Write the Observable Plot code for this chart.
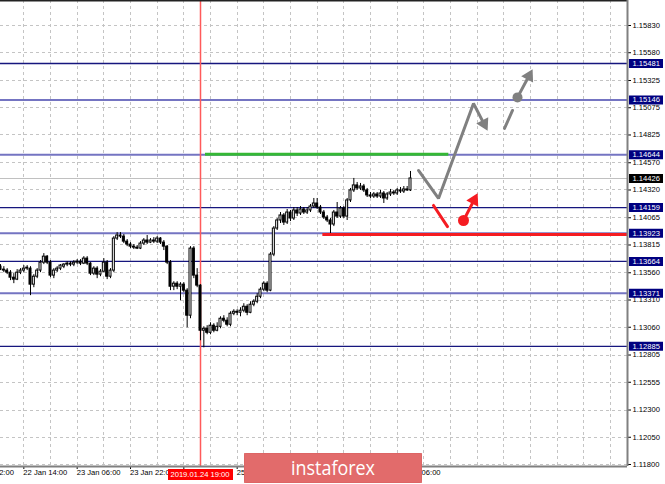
<!DOCTYPE html>
<html><head><meta charset="utf-8">
<script src="https://cdn.jsdelivr.net/npm/d3@7"></script>
<script src="https://cdn.jsdelivr.net/npm/@observablehq/plot@0.6"></script>
<style>
html,body{margin:0;padding:0;background:#fff;}
#wrap{position:relative;width:665px;height:484px;overflow:hidden;background:#fff;}
#wrap > svg{position:absolute;left:0;top:0;}
#datebox{position:absolute;top:469px;height:11px;width:65px;background:#ff0000;color:#fff;font-family:"Liberation Sans",Arial,sans-serif;font-size:7.6px;line-height:11px;text-align:center;white-space:nowrap;}
#logo{position:absolute;left:244px;top:453px;width:178px;height:30px;}
</style>
</head><body>
<div id="wrap"></div>
<script>
// ---- candles (EURUSD H1), bar index 0 = 22 Jan 07:00 ----
const open = [
1.13616,1.13589,1.13580,1.13561,1.13515,1.13497,1.13561,1.13580,1.13598,1.13598,
1.13451,1.13524,1.13580,1.13653,1.13708,1.13653,1.13534,1.13580,1.13598,1.13616,
1.13635,1.13644,1.13635,1.13653,1.13662,1.13644,1.13690,1.13644,1.13552,1.13598,
1.13543,1.13570,1.13653,1.13524,1.13580,1.13874,1.13902,1.13892,1.13846,1.13819,
1.13800,1.13791,1.13782,1.13828,1.13856,1.13837,1.13856,1.13846,1.13874,1.13837,
1.13800,1.13653,1.13432,1.13460,1.13432,1.13451,1.13396,1.13166,1.13782,1.13534,
1.13442,1.13028,1.13046,1.13009,1.13074,1.13028,1.13064,1.13138,1.13120,1.13083,
1.13184,1.13202,1.13193,1.13212,1.13248,1.13193,1.13267,1.13294,1.13340,1.13405,
1.13460,1.13396,1.13727,1.13966,1.14040,1.14086,1.14021,1.14113,1.14058,1.14132,
1.14104,1.14141,1.14113,1.14132,1.14168,1.14196,1.14159,1.14113,1.14067,1.14040,
1.14003,1.14113,1.14076,1.14150,1.14076,1.14224,1.14316,1.14362,1.14334,1.14352,
1.14316,1.14270,1.14260,1.14279,1.14260,1.14288,1.14242,1.14279,1.14297,1.14288,
1.14316,1.14306,1.14325,1.14316];
const high = [
1.13635,1.13616,1.13598,1.13580,1.13552,1.13589,1.13598,1.13626,1.13626,1.13616,
1.13543,1.13598,1.13672,1.13736,1.13718,1.13672,1.13598,1.13616,1.13635,1.13644,
1.13662,1.13662,1.13672,1.13681,1.13681,1.13708,1.13708,1.13653,1.13616,1.13616,
1.13589,1.13690,1.13672,1.13598,1.13892,1.13929,1.13929,1.13911,1.13865,1.13837,
1.13819,1.13810,1.13846,1.13874,1.13902,1.13874,1.13883,1.13892,1.13883,1.13856,
1.13810,1.13672,1.13478,1.13478,1.13469,1.13469,1.13414,1.13800,1.13800,1.13598,
1.13451,1.13064,1.13074,1.13101,1.13092,1.13101,1.13156,1.13166,1.13147,1.13202,
1.13221,1.13221,1.13239,1.13276,1.13267,1.13294,1.13313,1.13368,1.13423,1.13478,
1.13478,1.13745,1.13984,1.14058,1.14113,1.14104,1.14141,1.14132,1.14159,1.14159,
1.14168,1.14159,1.14159,1.14187,1.14242,1.14242,1.14178,1.14132,1.14086,1.14058,
1.14132,1.14205,1.14168,1.14168,1.14242,1.14334,1.14426,1.14389,1.14380,1.14371,
1.14334,1.14297,1.14297,1.14297,1.14316,1.14306,1.14297,1.14325,1.14316,1.14334,
1.14343,1.14352,1.14352,1.14490];
const low = [
1.13580,1.13561,1.13543,1.13488,1.13460,1.13488,1.13543,1.13561,1.13580,1.13350,
1.13423,1.13506,1.13561,1.13635,1.13635,1.13515,1.13506,1.13561,1.13580,1.13598,
1.13616,1.13616,1.13616,1.13635,1.13626,1.13635,1.13626,1.13534,1.13534,1.13506,
1.13524,1.13561,1.13497,1.13506,1.13561,1.13856,1.13874,1.13828,1.13800,1.13782,
1.13773,1.13773,1.13773,1.13810,1.13819,1.13828,1.13828,1.13828,1.13819,1.13764,
1.13635,1.13396,1.13396,1.13405,1.13304,1.13377,1.13055,1.13138,1.13506,1.13423,
1.12936,1.12871,1.12991,1.12991,1.13009,1.13018,1.13046,1.13101,1.13064,1.13064,
1.13166,1.13166,1.13156,1.13193,1.13166,1.13184,1.13248,1.13276,1.13322,1.13386,
1.13377,1.13386,1.13708,1.13948,1.14012,1.13994,1.14003,1.14030,1.14040,1.14076,
1.14086,1.14095,1.14095,1.14113,1.14150,1.14141,1.14095,1.14049,1.14021,1.13902,
1.13984,1.14058,1.14058,1.14058,1.14040,1.14205,1.14297,1.14316,1.14316,1.14297,
1.14251,1.14242,1.14242,1.14242,1.14242,1.14196,1.14224,1.14260,1.14270,1.14270,
1.14288,1.14288,1.14306,1.14306];
const close = [
1.13589,1.13580,1.13561,1.13515,1.13497,1.13561,1.13580,1.13598,1.13607,1.13451,
1.13524,1.13580,1.13653,1.13708,1.13653,1.13534,1.13580,1.13598,1.13626,1.13635,
1.13644,1.13635,1.13653,1.13662,1.13644,1.13690,1.13644,1.13552,1.13598,1.13543,
1.13570,1.13653,1.13524,1.13580,1.13874,1.13902,1.13892,1.13846,1.13819,1.13800,
1.13791,1.13782,1.13828,1.13856,1.13837,1.13856,1.13846,1.13874,1.13837,1.13800,
1.13653,1.13432,1.13460,1.13432,1.13451,1.13396,1.13166,1.13782,1.13534,1.13442,
1.13028,1.13046,1.13009,1.13074,1.13028,1.13064,1.13138,1.13120,1.13083,1.13184,
1.13202,1.13193,1.13212,1.13248,1.13193,1.13267,1.13294,1.13340,1.13405,1.13460,
1.13396,1.13727,1.13966,1.14040,1.14086,1.14021,1.14113,1.14058,1.14132,1.14104,
1.14141,1.14113,1.14132,1.14168,1.14196,1.14159,1.14113,1.14067,1.14040,1.14003,
1.14113,1.14076,1.14150,1.14076,1.14224,1.14316,1.14362,1.14334,1.14352,1.14316,
1.14270,1.14260,1.14279,1.14260,1.14288,1.14242,1.14279,1.14297,1.14288,1.14316,
1.14306,1.14325,1.14316,1.14426];

// ---- price axis ----
const yTicks = [1.15830,1.15580,1.15325,1.15075,1.14825,1.14570,1.14320,1.14065,1.13815,
  1.13560,1.13310,1.13060,1.12805,1.12555,1.12300,1.12050,1.11800];
// ---- time axis (labels hidden under the cursor box / logo are not shown in the reference) ----
const xTickIdx = [7,23,39,55,71,87,103,119];
const xLabelIdx = [-9,7,23,39,71,119];
const xLabels = ["21 Jan 22:00","22 Jan 14:00","23 Jan 06:00","23 Jan 22:00","25 Jan 06:00","29 Jan 06:00"];
const gridIdx = [7,15,23,31,39,47,55,63,71,79,87,95,103,111,119,127,135,143,151,159,167,175,183];

// ---- levels ----
const levels = [1.15481,1.15146,1.14644,1.14159,1.13923,1.13664,1.13371,1.12885];
const levelKind = ["dark","light","light","dark","light","dark","light","dark"];
const lastPrice = 1.14426;
const cursorBar = 60;
const cursorLabel = "2019.01.24 19:00";

// ---- drawn annotations (bar index, price) ----
const greenSeg = {x1: 61.5, x2: 134.5, y: 1.14648};
const redSeg = {x1: 96.7, x2: 188.1, y: 1.13911};
const grayPathX = [125.4, 131.4, 141.9, 146.1];
const grayPathY = [1.14499, 1.14242, 1.15114, 1.14866];
const grayDashX = [151.2, 153.6];
const grayDashY = [1.14885, 1.15050];
const grayDot = {x: 155.1, y: 1.15170};
const grayArrowTip = {x: 159.6, y: 1.15427};
const redStrokeX = [129.9, 134.1];
const redStrokeY = [1.14178, 1.13984];
const redDot = {x: 138.9, y: 1.14040};
const redArrowTip = {x: 143.1, y: 1.14288};

const xDomain = [0, 188.1];
const yDomain = [1.117816, 1.160595];
const W = 665, H = 484, mR = 38, mB = 18;

const bars = open.map((o, i) => ({i, o, h: high[i], l: low[i], c: close[i], up: close[i] >= o}));

const xs = d3.scaleLinear(xDomain, [0, W - mR]);
const ys = d3.scaleLinear(yDomain, [H - mB, 0]);
function head(fx, fy, tx, ty, back) {
  const x0 = xs(fx), y0 = ys(fy), x1 = xs(tx), y1 = ys(ty);
  const dx = x1 - x0, dy = y1 - y0, L = Math.hypot(dx, dy);
  return {x: xs.invert(x1 - dx / L * back), y: ys.invert(y1 - dy / L * back),
          rot: Math.atan2(dx, -dy) * 180 / Math.PI};
}
const GRAY = "#808080", RED = "#f51c22";
const h1 = head(grayPathX[2], grayPathY[2], grayPathX[3], grayPathY[3], 7.5);
const h2 = head(grayDot.x, grayDot.y, grayArrowTip.x, grayArrowTip.y, 7.5);
const h3 = head(redDot.x, redDot.y, redArrowTip.x, redArrowTip.y, 7.5);
const grayPath = grayPathX.map((x, k) => ({x, y: grayPathY[k]}));
grayPath[3] = {x: h1.x, y: h1.y};

const chart = Plot.plot({
  width: W, height: H,
  marginLeft: 0, marginRight: mR, marginTop: 0, marginBottom: mB,
  style: {fontFamily: '"Liberation Sans", Arial, sans-serif', fontSize: "7.6px", color: "#000", background: "#fff"},
  x: {domain: xDomain, ticks: xTickIdx, tickFormat: () => "", tickSize: 3, label: null},
  y: {domain: yDomain, axis: "right", ticks: yTicks, tickFormat: d3.format(".5f"), tickSize: 3, tickPadding: 2, label: null},
  marks: [
    Plot.ruleY(yTicks, {stroke: "#c4c4c4", strokeDasharray: "3,3", shapeRendering: "crispEdges"}),
    Plot.ruleX(gridIdx, {stroke: "#c4c4c4", strokeDasharray: "3,3", shapeRendering: "crispEdges"}),
    Plot.ruleY([lastPrice], {stroke: "#c0c0c0", shapeRendering: "crispEdges"}),
    Plot.ruleY(levels, {
      stroke: (d, k) => levelKind[k] === "dark" ? "#16167e" : "#7474c2",
      strokeWidth: (d, k) => levelKind[k] === "dark" ? 1.3 : 2
    }),
    Plot.ruleX([cursorBar], {stroke: "#ff5a5a", strokeWidth: 1.5}),
    Plot.ruleX(bars, {x: "i", y1: "l", y2: "h", stroke: "#000", strokeWidth: 1}),
    Plot.rect(bars, {x1: d => d.i - 0.3, x2: d => d.i + 0.3, y1: "o", y2: "c",
      fill: d => d.up ? "#fff" : "#000", stroke: "#000", strokeWidth: 1}),
    Plot.ruleY([greenSeg], {x1: "x1", x2: "x2", y: "y", stroke: "#35b835", strokeWidth: 3}),
    Plot.ruleY([redSeg], {x1: "x1", x2: "x2", y: "y", stroke: RED, strokeWidth: 3}),
    Plot.line(grayPath, {x: "x", y: "y", stroke: GRAY, strokeWidth: 3, strokeLinejoin: "miter"}),
    Plot.line(grayDashX.map((x, k) => ({x, y: grayDashY[k]})), {x: "x", y: "y", stroke: GRAY, strokeWidth: 3}),
    Plot.line([grayDot, {x: h2.x, y: h2.y}], {x: "x", y: "y", stroke: GRAY, strokeWidth: 3}),
    Plot.dot([grayDot], {x: "x", y: "y", r: 5, fill: GRAY, stroke: "none"}),
    Plot.line(redStrokeX.map((x, k) => ({x, y: redStrokeY[k]})), {x: "x", y: "y", stroke: RED, strokeWidth: 3}),
    Plot.line([redDot, {x: h3.x, y: h3.y}], {x: "x", y: "y", stroke: RED, strokeWidth: 3}),
    Plot.dot([redDot], {x: "x", y: "y", r: 5.5, fill: RED, stroke: "none"}),
    Plot.dot([h1, h2], {x: "x", y: "y", rotate: "rot", symbol: "triangle", r: 5, fill: GRAY, stroke: "none"}),
    Plot.dot([h3], {x: "x", y: "y", rotate: "rot", symbol: "triangle", r: 5, fill: RED, stroke: "none"}),
    Plot.ruleY([yDomain[1]], {stroke: "#222", strokeWidth: 2}),
    Plot.ruleY([yDomain[0]], {stroke: "#808080", strokeWidth: 2}),
    Plot.ruleX([xDomain[1]], {stroke: "#808080", strokeWidth: 2}),
    Plot.text(xLabelIdx, {x: d => d, text: (d, k) => xLabels[k], frameAnchor: "bottom", dy: 8, dx: -0.5, textAnchor: "start", fill: "#000"}),
    Plot.ruleY(levels, {insetLeft: 629, insetRight: -36, stroke: "#000080", strokeWidth: 9}),
    Plot.text(levels, {y: d => d, text: d => d3.format(".5f")(d), frameAnchor: "right", dx: 5, textAnchor: "start", fill: "#fff"}),
    Plot.ruleY([lastPrice], {insetLeft: 629, insetRight: -36, stroke: "#000", strokeWidth: 9}),
    Plot.text([lastPrice], {y: d => d, text: d => d3.format(".5f")(d), frameAnchor: "right", dx: 5, textAnchor: "start", fill: "#fff"})
  ]
});

const wrap = document.getElementById("wrap");
wrap.appendChild(chart);

const date = document.createElement("div");
date.id = "datebox";
date.textContent = cursorLabel;
date.style.left = (chart.scale("x").apply(cursorBar) - 32.5) + "px";
wrap.appendChild(date);

const logo = document.createElement("div");
logo.id = "logo";
logo.innerHTML = '<svg width="178" height="30" xmlns="http://www.w3.org/2000/svg">' +
  '<rect x="0" y="0" width="178" height="30" rx="2" fill="#e26b6b" stroke="#d86060" stroke-width="1"/>' +
  '<text x="89" y="21.5" text-anchor="middle" font-family="Open Sans, sans-serif" font-size="20" fill="#fff" textLength="84" lengthAdjust="spacingAndGlyphs">instaforex</text></svg>';
wrap.appendChild(logo);
</script>
</body></html>
